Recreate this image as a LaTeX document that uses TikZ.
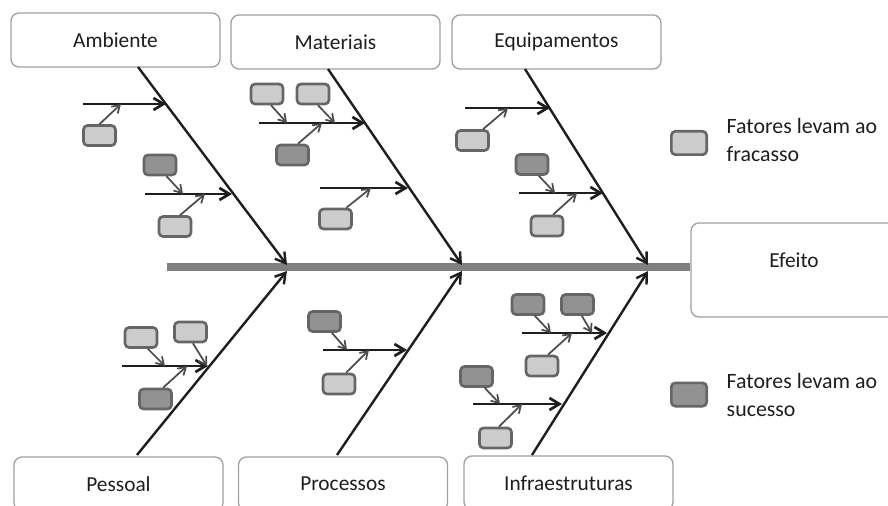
\documentclass[tikz,border=0pt]{standalone}
\usepackage{fontspec}
\setmainfont{Carlito}
\usetikzlibrary{arrows.meta}
\definecolor{lightfill}{HTML}{CCCCCC}
\definecolor{darkfill}{HTML}{929292}
\definecolor{boxedge}{HTML}{666666}
\definecolor{frameedge}{HTML}{A0A0A0}
\definecolor{spinegray}{HTML}{808080}
\definecolor{ink}{HTML}{1E1E1E}
\begin{document}
\begin{tikzpicture}[x=0.75pt,y=-0.75pt,
  category/.style={draw=frameedge,line width=1pt,rounded corners=6pt,fill=white,
    minimum width=156.75pt,minimum height=40.5pt,inner sep=0pt,
    font=\fontsize{16}{19}\selectfont,text=ink},
  bone/.style={-{Straight Barb[length=7.5pt,width=9pt]},line width=1.8pt,ink},
  subbone/.style={-{Straight Barb[length=7.5pt,width=9pt]},line width=2pt,ink},
  feed/.style={-{Straight Barb[length=5.5pt,width=7pt]},line width=1.3pt,black!70},
  cause/.style={draw=boxedge,line width=2pt,rounded corners=3pt,
    minimum width=24pt,minimum height=15pt,inner sep=0pt},
  fail/.style={cause,fill=lightfill},
  win/.style={cause,fill=darkfill},
  legendtext/.style={anchor=west,align=left,font=\fontsize{16.4}{21}\selectfont,text=ink}
]
\useasboundingbox (0,0) rectangle (888,506);
\clip (0,0) rectangle (888,506);

% ---- spine and effect box ----
\node[category,minimum width=156.75pt,minimum height=70.5pt] (efeito) at (795.5,270) {};
\node[font=\fontsize{16}{19}\selectfont,text=ink] (efeitotxt) at (794,260) {Efeito};
\coordinate (spinestart) at (167,267);
\draw[spinegray,line width=6pt] (spinestart) -- (efeito.west |- spinestart);

% ---- category boxes ----
\node[category] (amb) at (115.5,40) {Ambiente};
\node[category] (mat) at (335.5,42) {Materiais};
\node[category] (equ) at (556.5,42) {Equipamentos};
\node[category] (pes) at (118.5,484) {Pessoal};
\node[category] (pro) at (343,484) {Processos};
\node[category] (inf) at (568.5,483) {Infraestruturas};

% ---- main bones ----
\coordinate (A0) at (138,67);  \coordinate (A1) at (287,265);
\coordinate (M0) at (328,69);  \coordinate (M1) at (462,265);
\coordinate (E0) at (525,69);  \coordinate (E1) at (648,265);
\coordinate (P0) at (137,455); \coordinate (P1) at (287,271);
\coordinate (R0) at (337,455); \coordinate (R1) at (462,271);
\coordinate (I0) at (532,455); \coordinate (I1) at (648,271);
\foreach \b in {A,M,E,P,R,I} \draw[bone] (\b0) -- (\b1);

% ---- Ambiente ----
\coordinate (A1s) at (83,104);  \coordinate (A1e) at (166,104);
\coordinate (A2s) at (145,194); \coordinate (A2e) at (232,194);
\draw[subbone] (A1s) -- (A1e);
\draw[subbone] (A2s) -- (A2e);
\node[fail] (a1) at (99.5,135.5) {};
\node[win]  (a2) at (160,165) {};
\node[fail] (a3) at (175,226.5) {};
\coordinate (a1t) at (121,104);
\coordinate (a2t) at (183,194);
\coordinate (a3t) at (205,194);
\draw[feed] (a1.north) -- (a1t);
\draw[feed] (a2.-60) -- (a2t);
\draw[feed] (a3.66) -- (a3t);

% ---- Materiais ----
\coordinate (M1s) at (259,123); \coordinate (M1e) at (365,123);
\coordinate (M2s) at (320,188); \coordinate (M2e) at (408,188);
\draw[subbone] (M1s) -- (M1e);
\draw[subbone] (M2s) -- (M2e);
\node[fail] (m1) at (267,94) {};
\node[fail] (m2) at (313,94) {};
\node[win]  (m3) at (292.5,155) {};
\node[fail] (m4) at (335.5,219) {};
\coordinate (m1t) at (287,123);
\coordinate (m2t) at (335,123);
\coordinate (m3t) at (322,123);
\coordinate (m4t) at (371,188);
\draw[feed] (m1.-70) -- (m1t);
\draw[feed] (m2.-66) -- (m2t);
\draw[feed] (m3.64) -- (m3t);
\draw[feed] (m4.46) -- (m4t);

% ---- Equipamentos ----
\coordinate (E1s) at (465,108); \coordinate (E1e) at (550,108);
\coordinate (E2s) at (519,193); \coordinate (E2e) at (603,193);
\draw[subbone] (E1s) -- (E1e);
\draw[subbone] (E2s) -- (E2e);
\node[fail] (e1) at (472.5,140.5) {};
\node[win]  (e2) at (532,164.5) {};
\node[fail] (e3) at (547,226) {};
\coordinate (e1t) at (508,108);
\coordinate (e2t) at (555,193);
\coordinate (e3t) at (577,193);
\draw[feed] (e1.47) -- (e1t);
\draw[feed] (e2.-59) -- (e2t);
\draw[feed] (e3.62) -- (e3t);

% ---- Pessoal ----
\coordinate (P1s) at (122,366); \coordinate (P1e) at (208,366);
\draw[subbone] (P1s) -- (P1e);
\node[fail] (p1) at (141,337.5) {};
\node[fail] (p2) at (190.5,332) {};
\node[win]  (p3) at (155.5,399) {};
\coordinate (p1t) at (165,366);
\coordinate (p2t) at (207,366);
\coordinate (p3t) at (187,366);
\draw[feed] (p1.-59) -- (p1t);
\draw[feed] (p2.-78) -- (p2t);
\draw[feed] (p3.56) -- (p3t);

% ---- Processos ----
\coordinate (R1s) at (323,350); \coordinate (R1e) at (407,350);
\draw[subbone] (R1s) -- (R1e);
\node[win]  (r1) at (324.5,321.5) {};
\node[fail] (r2) at (339,384) {};
\coordinate (r1t) at (347,350);
\coordinate (r2t) at (369,350);
\draw[feed] (r1.-57) -- (r1t);
\draw[feed] (r2.58) -- (r2t);

% ---- Infraestruturas ----
\coordinate (I1s) at (522,333); \coordinate (I1e) at (607,333);
\coordinate (I2s) at (473,404); \coordinate (I2e) at (562,404);
\draw[subbone] (I1s) -- (I1e);
\draw[subbone] (I2s) -- (I2e);
\node[win]  (i1) at (528,304.5) {};
\node[win]  (i2) at (577.5,304.5) {};
\node[fail] (i3) at (542,366) {};
\node[win]  (i4) at (476.5,376.5) {};
\node[fail] (i5) at (495.5,438) {};
\coordinate (i1t) at (551,333);
\coordinate (i2t) at (592,333);
\coordinate (i3t) at (572,333);
\coordinate (i4t) at (500,404);
\coordinate (i5t) at (522,404);
\draw[feed] (i1.-59) -- (i1t);
\draw[feed] (i2.-69) -- (i2t);
\draw[feed] (i3.62) -- (i3t);
\draw[feed] (i4.-54) -- (i4t);
\draw[feed] (i5.73) -- (i5t);

% ---- legend ----
\node[fail,minimum width=26.5pt,minimum height=17.5pt] (legfail) at (689,143) {};
\node[legendtext] (legfailtxt) at (722,140) {Fatores levam ao\\fracasso};
\node[win,minimum width=26.5pt,minimum height=17.5pt] (legwin) at (689,394.5) {};
\node[legendtext] (legwintxt) at (722,395) {Fatores levam ao\\sucesso};
\end{tikzpicture}
\end{document}
